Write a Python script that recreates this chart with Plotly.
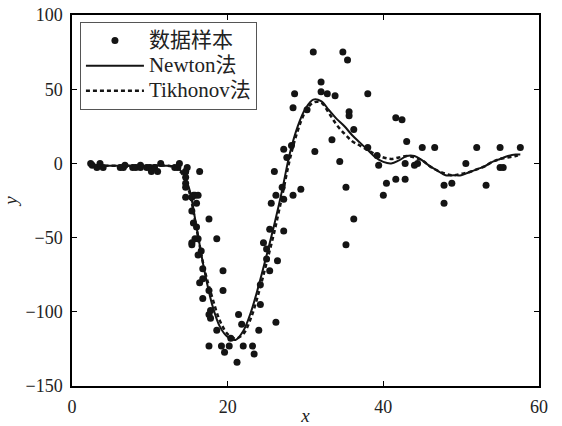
import plotly.graph_objects as go

# mcycle-type data samples
times = [2.4, 2.6, 3.2, 3.6, 4.0, 6.2, 6.6, 6.8, 7.8, 8.2, 8.8, 8.8, 9.6, 10.0, 10.2, 10.6, 11.0, 11.4,
         13.2, 13.6, 13.8, 14.6, 14.6, 14.6, 14.6, 14.6, 14.6, 14.8, 15.4, 15.4, 15.4, 15.4, 15.6, 15.6,
         15.8, 15.8, 16.0, 16.0, 16.2, 16.2, 16.2, 16.4, 16.4, 16.6, 16.8, 16.8, 16.8, 17.6, 17.6, 17.6,
         17.6, 17.8, 17.8, 18.6, 18.6, 19.2, 19.4, 19.4, 19.6, 20.2, 20.4, 21.2, 21.4, 21.8, 22.0, 23.2,
         23.4, 24.0, 24.2, 24.2, 24.6, 25.0, 25.0, 25.4, 25.4, 25.6, 26.0, 26.2, 26.2, 26.4, 27.0, 27.2,
         27.2, 27.2, 27.6, 28.2, 28.4, 28.4, 28.6, 29.4, 30.2, 31.0, 31.2, 32.0, 32.0, 32.8, 33.4, 33.8,
         34.4, 34.8, 35.2, 35.2, 35.4, 35.6, 35.6, 36.2, 36.2, 38.0, 38.0, 39.2, 39.4, 40.0, 40.4, 41.6,
         41.6, 42.4, 42.8, 42.8, 43.0, 44.0, 44.4, 45.0, 46.6, 47.8, 47.8, 48.8, 50.6, 52.0, 53.2, 55.0,
         55.0, 55.4, 57.6]
accel = [0.0, -1.3, -2.7, 0.0, -2.7, -2.7, -2.7, -1.3, -2.7, -2.7, -1.3, -2.7, -2.7, -2.7, -5.4, -2.7,
         -5.4, 0.0, -2.7, -2.7, 0.0, -13.3, -5.4, -5.4, -9.3, -16.0, -22.8, -2.7, -22.8, -32.1, -53.5,
         -54.9, -40.2, -21.5, -21.5, -50.8, -42.9, -26.8, -21.5, -50.8, -61.7, -5.4, -80.4, -59.0, -71.0,
         -91.1, -77.7, -37.5, -85.6, -123.1, -101.9, -99.1, -104.4, -112.5, -50.8, -123.1, -85.6, -72.3,
         -127.2, -123.1, -117.9, -134.0, -101.9, -108.4, -123.1, -123.1, -128.5, -112.5, -95.1, -81.8,
         -53.5, -64.4, -57.6, -72.3, -44.3, -26.8, -5.4, -107.1, -21.5, -65.6, -16.0, -45.6, -24.2, 9.5,
         4.0, 12.0, -21.5, 37.5, 46.9, -17.4, 36.2, 75.0, 8.1, 54.9, 48.2, 46.9, 16.0, 45.6, 1.3, 75.0,
         -16.0, -54.9, 69.6, 34.8, 32.1, -37.5, 22.8, 46.9, 10.7, 5.4, -1.3, -21.5, -13.3, 30.8, -10.7,
         29.4, 0.0, -10.7, 14.7, -1.3, 0.0, 10.7, 10.7, -26.8, -14.7, -13.3, 0.0, 10.7, -14.7, -2.7,
         10.7, -2.7, 10.7]

fit_x = [2.4, 4, 6, 8, 10, 12, 13, 14, 15, 16, 17, 18, 19, 20, 21, 22, 23, 24, 25, 26, 27, 28, 29, 30,
         31, 32, 33, 34, 35, 36, 37, 38, 39, 40, 41, 42, 43, 44, 45, 46, 47, 48, 49, 50, 51, 52, 53, 54,
         55, 56, 57, 57.6]
newton = [-1, -1.5, -1.5, -1.5, -1.5, -1.5, -2, -5, -16, -43, -72, -95, -110, -117, -119, -113, -100,
          -82, -62, -41, -18, 7, 25, 37, 43, 42, 36, 30, 25, 19, 14, 9, 4, 1, 0, 2, 5, 5, 2, -2, -5, -8,
          -8, -8, -6, -4, -2, 1, 3, 5, 6, 6]
tikhonov = [-1, -1.5, -1.5, -1.5, -1.5, -1.5, -2.5, -6, -18, -44, -71, -90, -106, -115, -118, -115, -104,
            -87, -67, -46, -22, 3, 22, 35, 41, 41, 34, 26, 20, 15, 12, 9, 6, 4, 3, 4, 5, 4, 2, -2, -5, -7,
            -8, -7, -6, -4, -2, 1, 3, 4, 5, 6]

legend_names = ["数据样本", "Newton法", "Tikhonov法"]
y_ticks = [-150, -100, -50, 0, 50, 100]
y_ticktext = ["\u2212150", "\u2212100", "\u221250", "0", "50", "100"]
x_ticks = [0, 20, 40, 60]

ink = "#141414"
font_fam = "Liberation Serif, Noto Sans CJK SC, serif"


def big(s):
    return "<span style='font-size:21px'>" + s + "</span>"


fig = go.Figure()
fig.add_trace(go.Scatter(x=times, y=accel, mode="markers", name=big(legend_names[0]),
                         marker=dict(color=ink, size=7)))
fig.add_trace(go.Scatter(x=fit_x, y=newton, mode="lines", name=big(legend_names[1]), line_shape="spline",
                         line=dict(color=ink, width=2)))
fig.add_trace(go.Scatter(x=fit_x, y=tikhonov, mode="lines", name=big(legend_names[2]), line_shape="spline",
                         line=dict(color=ink, width=2.5, dash="4px,3px")))

axis_common = dict(showgrid=False, zeroline=False, showline=True, linecolor="black", linewidth=1.5,
                   mirror="ticks", ticks="inside", ticklen=5, tickcolor="black", automargin=False,
                   ticklabeloverflow="allow", ticklabelstandoff=4,
                   tickfont=dict(family=font_fam, size=18, color="#222"))
fig.update_xaxes(range=[0, 60], tickvals=x_ticks, **axis_common,
                 title=dict(text="<i>x</i>", font=dict(family=font_fam, size=19, color="#222"), standoff=6))
fig.update_yaxes(range=[-150, 100], tickvals=y_ticks, ticktext=y_ticktext, **axis_common,
                 title=dict(text="<i>y</i>", font=dict(family=font_fam, size=19, color="#222"), standoff=9))

fig.update_layout(width=562, height=426, margin=dict(l=72, r=23, t=15, b=40),
                  plot_bgcolor="white", paper_bgcolor="white",
                  legend=dict(x=0.017, y=0.981, xanchor="left", yanchor="top",
                              bordercolor="#555", borderwidth=1, bgcolor="white",
                              font=dict(family=font_fam, size=17, color="#222"),
                              tracegroupgap=0, itemwidth=58),
                  showlegend=True)

# remove the default page margin so the 562x426 figure fills the window exactly
fig.write_html("out.html", config={"displayModeBar": False},
               post_script="document.body.style.margin='0';document.body.style.overflow='hidden';")
